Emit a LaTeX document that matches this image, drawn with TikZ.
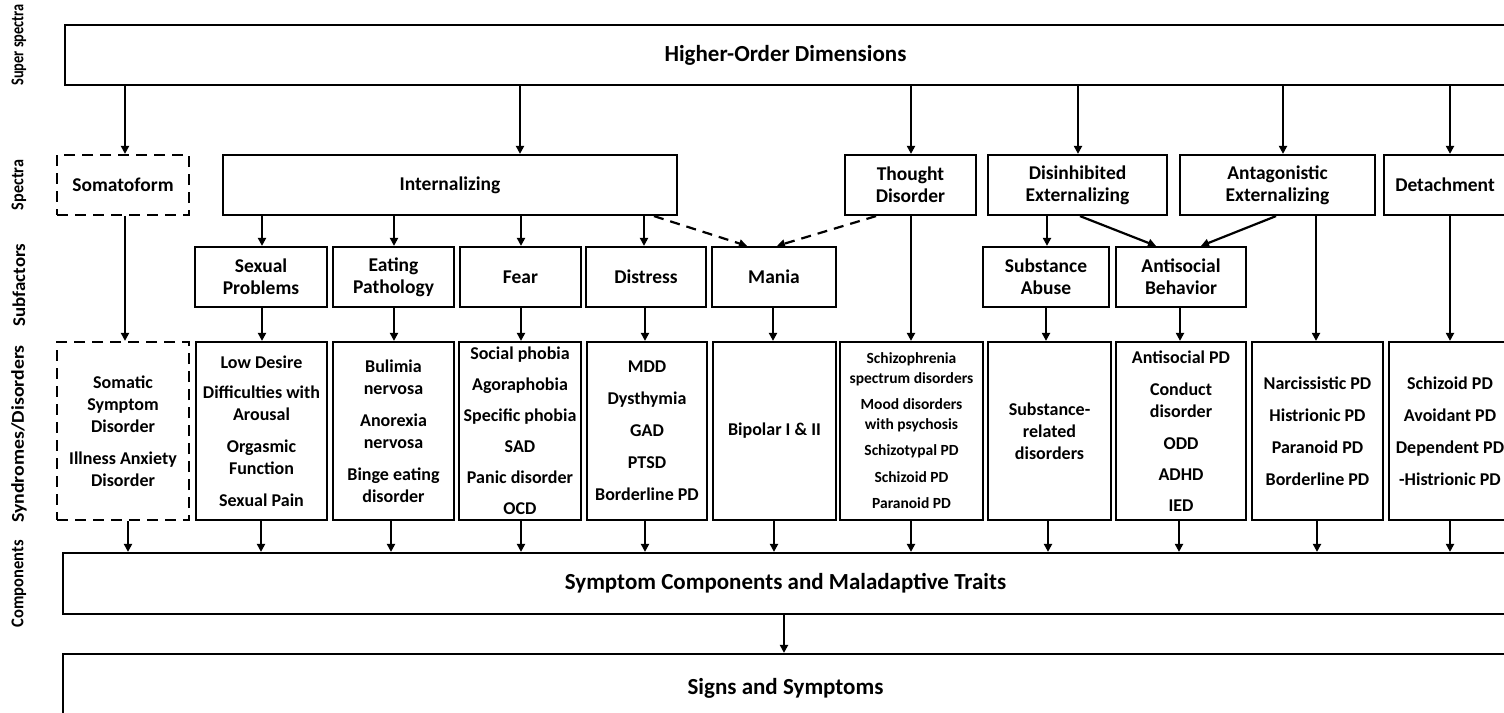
\documentclass[tikz,border=0pt]{standalone}
\usepackage{fontspec}
\setmainfont{Carlito}
\usetikzlibrary{arrows.meta}
\begin{document}
\begin{tikzpicture}[x=1pt,y=-1pt,
  box/.style={draw, line width=2.2pt, inner sep=0pt, align=center, font=\fontsize{19.5}{22}\selectfont\bfseries},
  sbox/.style={box, font=\fontsize{18}{22}\selectfont\bfseries},
  tbox/.style={box, font=\fontsize{15.5}{19.5}\selectfont\bfseries},
  bigbox/.style={box, font=\fontsize{23}{26}\selectfont\bfseries},
  dashbox/.style={dash pattern=on 11pt off 7pt},
  arr/.style={line width=2.2pt, -{Triangle[length=8pt,width=8pt]}},
  darr/.style={arr, dash pattern=on 10pt off 7pt},
  lab/.style={rotate=90, inner sep=0pt, font=\fontsize{18}{20}\selectfont\bfseries}]
\useasboundingbox (0,0) rectangle (1504,712);
\fill[white] (0,0) rectangle (1504,712);
\clip (0,0) rectangle (1504,712);

% row labels
\node[lab] (l1) at (19,45) {\scalebox{0.8}[1]{Super spectra}};
\node[lab] (l2) at (19,185) {\scalebox{0.9}[1]{Spectra}};
\node[lab] (l3) at (19,285) {\scalebox{1.05}[1]{Subfactors}};
\node[lab] (l4) at (19,434) {\scalebox{1.1}[1]{Syndromes/Disorders}};
\node[lab] (l5) at (19,584) {\scalebox{0.92}[1]{Components}};

% super spectra
\node[bigbox, minimum width=1441pt, minimum height=60pt] (hod) at (785.5,55) {Higher-Order Dimensions};

% spectra
\node[box, dashbox, minimum width=132pt, minimum height=60pt] (som) at (123,185) {Somatoform};
\node[box, minimum width=454pt, minimum height=60pt] (intl) at (450,185) {Internalizing};
\node[box, minimum width=131pt, minimum height=60pt] (thought) at (910.5,185) {Thought\\Disorder};
\node[box, minimum width=179pt, minimum height=60pt] (disinh) at (1077.5,185) {Disinhibited\\Externalizing};
\node[box, minimum width=195pt, minimum height=60pt] (antag) at (1277.5,185) {Antagonistic\\Externalizing};
\node[box, minimum width=122pt, minimum height=60pt] (det) at (1445,185) {Detachment};

% subfactors
\node[box, minimum width=132pt, minimum height=60pt] (sex) at (261,277) {Sexual\\Problems};
\node[box, minimum width=121pt, minimum height=60pt] (eat) at (393.5,277) {Eating\\Pathology};
\node[box, minimum width=121pt, minimum height=60pt] (fear) at (520.5,277) {Fear};
\node[box, minimum width=120pt, minimum height=60pt] (dist) at (646,277) {Distress};
\node[box, minimum width=124pt, minimum height=60pt] (mania) at (774,277) {Mania};
\node[box, minimum width=126pt, minimum height=60pt] (subab) at (1046,277) {Substance\\Abuse};
\node[box, minimum width=130pt, minimum height=60pt] (asb) at (1181,277) {Antisocial\\Behavior};

% syndromes / disorders
\node[sbox, dashbox, minimum width=132pt, minimum height=178pt] (somd) at (123,431)
  {Somatic\\Symptom\\Disorder\\[10pt]Illness Anxiety\\Disorder};
\node[sbox, minimum width=131pt, minimum height=178pt] (sexd) at (261.5,431)
  {Low Desire\\[8pt]Difficulties with\\Arousal\\[10pt]Orgasmic\\Function\\[10pt]Sexual Pain};
\node[sbox, minimum width=121pt, minimum height=178pt] (eatd) at (393.5,431)
  {Bulimia\\nervosa\\[10pt]Anorexia\\nervosa\\[10pt]Binge eating\\disorder};
\node[sbox, minimum width=122pt, minimum height=178pt] (feard) at (520,431)
  {Social phobia\\[9pt]Agoraphobia\\[9pt]Specific phobia\\[9pt]SAD\\[9pt]Panic disorder\\[9pt]OCD};
\node[sbox, minimum width=120pt, minimum height=178pt] (distd) at (647,431)
  {MDD\\[10pt]Dysthymia\\[10pt]GAD\\[10pt]PTSD\\[10pt]Borderline PD};
\node[sbox, minimum width=123pt, minimum height=178pt] (bip) at (774.5,431) {Bipolar I \& II};
\node[tbox, minimum width=143pt, minimum height=178pt] (schz) at (911.5,431)
  {Schizophrenia\\spectrum disorders\\[7pt]Mood disorders\\with psychosis\\[7pt]Schizotypal PD\\[7pt]Schizoid PD\\[7pt]Paranoid PD};
\node[sbox, minimum width=123pt, minimum height=178pt] (subd) at (1049.5,431) {Substance-\\related\\disorders};
\node[sbox, minimum width=130pt, minimum height=178pt] (asd) at (1181,431)
  {Antisocial PD\\[10pt]Conduct\\disorder\\[10pt]ODD\\[9pt]ADHD\\[9pt]IED};
\node[sbox, minimum width=131pt, minimum height=178pt] (narc) at (1317.5,431)
  {Narcissistic PD\\[10pt]Histrionic PD\\[10pt]Paranoid PD\\[10pt]Borderline PD};
\node[sbox, minimum width=122pt, minimum height=178pt] (schd) at (1450,431)
  {Schizoid PD\\[10pt]Avoidant PD\\[10pt]Dependent PD\\[10pt]-Histrionic PD};

% components and signs
\node[bigbox, minimum width=1445pt, minimum height=61pt] (comp) at (785.5,583.5) {Symptom Components and Maladaptive Traits};
\node[bigbox, minimum width=1445pt, minimum height=68pt] (signs) at (785.5,688) {Signs and Symptoms};

% super spectra -> spectra
\draw[arr] (125,0 |- hod.south) -- (125,0 |- som.north);
\draw[arr] (520,0 |- hod.south) -- (520,0 |- intl.north);
\draw[arr] (911,0 |- hod.south) -- (911,0 |- thought.north);
\draw[arr] (1078,0 |- hod.south) -- (1078,0 |- disinh.north);
\draw[arr] (1283,0 |- hod.south) -- (1283,0 |- antag.north);
\draw[arr] (1450,0 |- hod.south) -- (1450,0 |- det.north);

% spectra -> subfactors
\draw[arr] (262,0 |- intl.south) -- (262,0 |- sex.north);
\draw[arr] (394,0 |- intl.south) -- (394,0 |- eat.north);
\draw[arr] (521,0 |- intl.south) -- (521,0 |- fear.north);
\draw[arr] (644,0 |- intl.south) -- (644,0 |- dist.north);
\draw[darr] (654,0 |- intl.south) -- (747,0 |- mania.north);
\draw[darr] (876,0 |- thought.south) -- (777,0 |- mania.north);
\draw[arr] (1047,0 |- disinh.south) -- (1047,0 |- subab.north);
\draw[arr] (1080,0 |- disinh.south) -- (1156,0 |- asb.north);
\draw[arr] (1276,0 |- antag.south) -- (1201,0 |- asb.north);

% spectra -> syndromes
\draw[arr] (125,0 |- som.south) -- (125,0 |- somd.north);
\draw[arr] (911,0 |- thought.south) -- (911,0 |- schz.north);
\draw[arr] (1316,0 |- antag.south) -- (1316,0 |- narc.north);
\draw[arr] (1450,0 |- det.south) -- (1450,0 |- schd.north);

% subfactors -> syndromes
\draw[arr] (262,0 |- sex.south) -- (262,0 |- sexd.north);
\draw[arr] (394,0 |- eat.south) -- (394,0 |- eatd.north);
\draw[arr] (521,0 |- fear.south) -- (521,0 |- feard.north);
\draw[arr] (645,0 |- dist.south) -- (645,0 |- distd.north);
\draw[arr] (773,0 |- mania.south) -- (773,0 |- bip.north);
\draw[arr] (1046,0 |- subab.south) -- (1046,0 |- subd.north);
\draw[arr] (1180,0 |- asb.south) -- (1180,0 |- asd.north);

% syndromes -> components
\draw[arr] (128,0 |- somd.south) -- (128,0 |- comp.north);
\draw[arr] (261,0 |- sexd.south) -- (261,0 |- comp.north);
\draw[arr] (391,0 |- eatd.south) -- (391,0 |- comp.north);
\draw[arr] (521,0 |- feard.south) -- (521,0 |- comp.north);
\draw[arr] (645,0 |- distd.south) -- (645,0 |- comp.north);
\draw[arr] (774,0 |- bip.south) -- (774,0 |- comp.north);
\draw[arr] (911,0 |- schz.south) -- (911,0 |- comp.north);
\draw[arr] (1048,0 |- subd.south) -- (1048,0 |- comp.north);
\draw[arr] (1179,0 |- asd.south) -- (1179,0 |- comp.north);
\draw[arr] (1317,0 |- narc.south) -- (1317,0 |- comp.north);
\draw[arr] (1450,0 |- schd.south) -- (1450,0 |- comp.north);

% components -> signs
\draw[arr] (784,0 |- comp.south) -- (784,0 |- signs.north);
\end{tikzpicture}
\end{document}
